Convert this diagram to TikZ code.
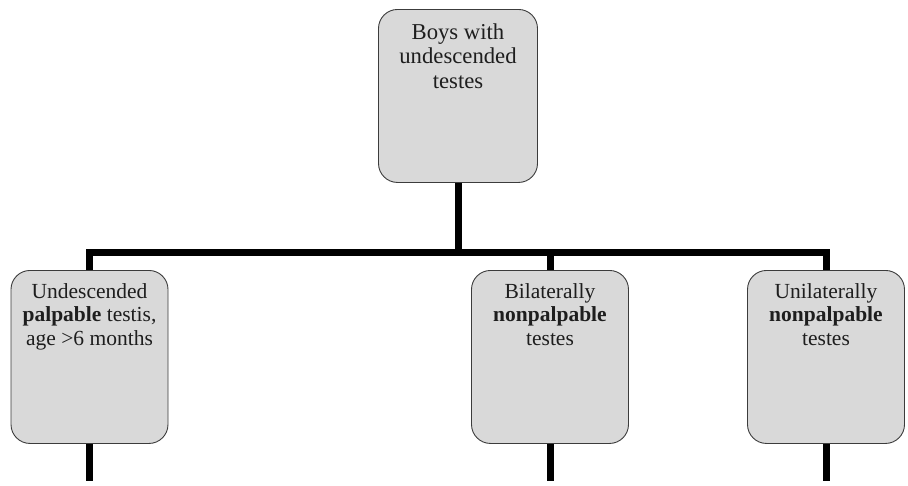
\documentclass[tikz,border=0pt]{standalone}
\usepackage{fontspec}
\setmainfont{Liberation Serif}
\definecolor{boxfill}{HTML}{D9D9D9}
\definecolor{boxline}{HTML}{3C3C3C}
\definecolor{ink}{HTML}{1E1E1E}
\begin{document}
\begin{tikzpicture}[x=1pt,y=-1pt]
\tikzset{
  box/.style={draw=boxline, fill=boxfill, rounded corners=19pt, line width=0.9pt,
    inner xsep=3.5pt, inner ysep=0pt, anchor=north, text=ink,
    font=\fontsize{21.5}{23.5}\selectfont},
  bigtext/.style={font=\fontsize{22.7}{24.5}\selectfont},
  wire/.style={line width=7pt, line join=miter, line cap=butt}
}
\newcommand{\boxtext}[3]{\parbox[t][#1][t]{150pt}{\centering\rule{0pt}{#2}#3}}
\useasboundingbox (0,0) rectangle (908,485);

% bus line and end points of the lower stubs
\coordinate (bus) at (458,252);
\coordinate (endA) at (89.5,481);
\coordinate (endB) at (550,481);
\coordinate (endC) at (826,481);

% boxes
\node[box, bigtext, minimum width=159pt] (root) at (458,9)
  {\boxtext{173pt}{30pt}{Boys with\\undescended\\testes}};
\node[box, minimum width=157pt] (palp) at (89.5,270)
  {\boxtext{173pt}{28pt}{Undescended\\\textbf{palpable} testis,\\age >6 months}};
\node[box, minimum width=157pt] (bilat) at (550,270)
  {\boxtext{173pt}{28pt}{Bilaterally\\\textbf{nonpalpable}\\testes}};
\node[box, minimum width=157pt] (unilat) at (826,270)
  {\boxtext{173pt}{28pt}{Unilaterally\\\textbf{nonpalpable}\\testes}};

% connectors
\draw[wire] (root.south) -- (root.south |- bus);
\draw[wire] (palp.north) -- (palp.north |- bus) -- (unilat.north |- bus) -- (unilat.north);
\draw[wire] (bilat.north) -- (bilat.north |- bus);
\draw[wire] (palp.south) -- (endA);
\draw[wire] (bilat.south) -- (endB);
\draw[wire] (unilat.south) -- (endC);
\end{tikzpicture}
\end{document}
